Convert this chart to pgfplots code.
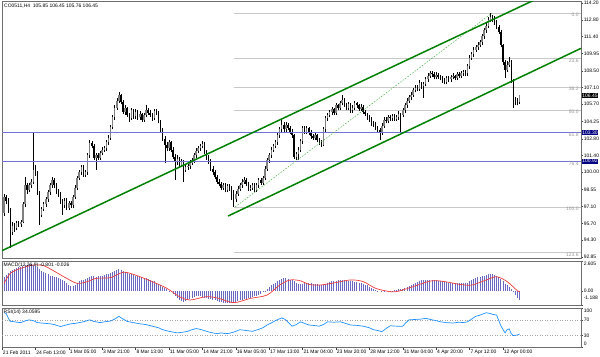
\documentclass[border=0pt]{standalone}
\usepackage{fontspec}
\setmainfont{Liberation Sans}
\usepackage{pgfplots}
\pgfplotsset{compat=1.18}
\usepackage{pgfplotstable}

\definecolor{hline}{RGB}{115,115,215}
\definecolor{navybox}{RGB}{0,0,128}
\definecolor{chgreen}{RGB}{0,128,0}
\definecolor{fibgreen}{RGB}{70,175,70}
\definecolor{fibgray}{RGB}{200,200,200}
\definecolor{fibtext}{RGB}{150,150,150}
\definecolor{histcol}{RGB}{105,105,195}
\definecolor{sigred}{RGB}{240,60,60}
\definecolor{rsiblue}{RGB}{30,144,255}
\definecolor{framecol}{RGB}{110,110,110}
\newcommand{\tf}{\fontsize{5}{6}\selectfont}

\pgfplotstableread{
i o h l c
0 96.60 98.20 96.30 97.90
1 97.90 98.10 97.30 97.60
2 97.60 97.80 96.60 96.80
3 96.80 96.95 93.63 95.00
4 95.00 95.80 94.70 95.50
5 95.50 95.70 95.00 95.30
6 95.30 95.90 95.10 95.70
7 95.70 95.90 95.40 95.60
8 95.60 96.00 95.40 95.80
9 95.80 97.50 95.70 97.30
10 97.30 99.60 97.10 98.90
11 98.90 99.10 98.20 98.50
12 98.50 99.10 98.30 98.90
13 98.90 99.40 98.70 99.20
14 99.20 103.29 99.00 100.20
15 100.20 100.60 99.70 100.00
16 100.00 100.10 98.10 98.30
17 98.30 98.40 95.56 96.40
18 96.40 97.10 96.20 96.90
19 96.90 97.50 96.70 97.30
20 97.30 97.90 97.10 97.70
21 97.70 98.50 97.50 98.30
22 98.30 99.10 98.10 98.90
23 98.90 99.60 98.70 99.30
24 99.30 99.50 98.70 98.90
25 98.90 99.10 98.20 98.40
26 98.40 98.60 97.90 98.10
27 98.10 98.30 97.30 97.50
28 97.50 97.70 96.40 97.20
29 97.20 97.80 97.00 97.60
30 97.60 97.80 96.80 97.00
31 97.00 97.60 96.80 97.40
32 97.40 97.60 97.00 97.20
33 97.20 98.10 97.00 97.90
34 97.90 98.90 97.70 98.70
35 98.70 99.70 98.50 99.50
36 99.50 100.20 99.30 100.00
37 100.00 100.60 99.80 100.40
38 100.40 100.60 99.60 99.80
39 99.80 100.20 99.60 100.00
40 100.00 101.60 99.80 101.40
41 101.40 102.70 101.20 102.45
42 102.45 102.60 102.00 102.20
43 102.20 102.40 101.00 101.20
44 101.20 101.60 100.18 101.40
45 101.40 101.60 101.00 101.20
46 101.20 101.80 101.00 101.60
47 101.60 102.10 101.40 101.90
48 101.90 102.20 101.70 102.00
49 102.00 102.70 101.80 102.50
50 102.50 103.10 102.30 102.90
51 102.90 104.00 102.70 103.80
52 103.80 104.80 103.60 104.60
53 104.60 105.60 104.40 105.40
54 105.40 106.20 105.20 106.00
55 106.00 106.73 105.80 106.50
56 106.50 106.60 105.70 105.90
57 105.90 106.10 104.90 105.05
58 105.05 105.60 104.80 105.40
59 105.40 105.50 104.60 104.80
60 104.80 105.00 104.20 104.55
61 104.55 105.40 104.40 105.20
62 105.20 105.30 104.50 104.70
63 104.70 105.30 104.50 105.05
64 105.05 105.20 104.40 104.60
65 104.60 105.10 104.40 104.90
66 104.90 105.00 104.20 104.40
67 104.40 105.00 104.20 104.80
68 104.80 105.64 104.60 105.20
69 105.20 105.40 104.80 105.00
70 105.00 105.20 104.60 104.80
71 104.80 105.00 104.30 104.55
72 104.55 105.30 104.40 105.10
73 105.10 105.30 104.80 104.97
74 104.97 105.10 104.10 104.30
75 104.30 104.40 103.30 103.50
76 103.50 103.70 102.60 102.80
77 102.80 103.00 100.77 102.30
78 102.30 102.50 101.80 102.00
79 102.00 102.70 101.80 102.50
80 102.50 102.60 101.70 101.90
81 101.90 102.10 101.10 101.30
82 101.30 101.50 99.34 100.85
83 100.85 101.40 100.60 101.10
84 101.10 101.30 100.40 100.60
85 100.60 101.10 100.40 100.90
86 100.90 101.00 99.17 100.20
87 100.20 100.60 100.00 100.40
88 100.40 100.70 100.20 100.50
89 100.50 101.00 100.30 100.80
90 100.80 101.20 100.60 101.00
91 101.00 101.60 100.80 101.40
92 101.40 102.00 101.20 101.80
93 101.80 102.20 101.60 102.00
94 102.00 102.40 101.80 102.20
95 102.20 102.62 102.00 102.40
96 102.40 102.50 101.50 101.70
97 101.70 101.90 101.00 101.20
98 101.20 101.40 100.70 100.90
99 100.90 101.10 100.10 100.30
100 100.30 100.50 99.80 100.00
101 100.00 100.20 99.40 99.60
102 99.60 99.80 99.00 99.20
103 99.20 99.40 98.80 99.00
104 99.00 99.20 98.50 98.70
105 98.70 99.10 98.50 98.90
106 98.90 99.10 98.30 98.50
107 98.50 99.00 98.30 98.80
108 98.80 99.00 98.40 98.60
109 98.60 98.80 97.66 98.30
110 98.30 98.50 97.07 97.70
111 97.70 98.40 97.50 98.20
112 98.20 98.80 98.00 98.60
113 98.60 99.10 98.40 98.90
114 98.90 99.40 98.70 99.20
115 99.20 99.60 99.00 99.30
116 99.30 99.50 98.80 99.00
117 99.00 99.20 98.40 98.60
118 98.60 98.90 98.40 98.70
119 98.70 99.10 98.50 98.90
120 98.90 99.10 98.30 98.50
121 98.50 99.10 98.30 98.90
122 98.90 99.50 98.70 99.30
123 99.30 99.50 98.90 99.10
124 99.10 99.70 98.90 99.50
125 99.50 100.50 99.30 100.30
126 100.30 101.20 100.10 101.00
127 101.00 101.60 100.80 101.40
128 101.40 102.10 101.20 101.90
129 101.90 102.40 101.70 102.20
130 102.20 102.70 102.00 102.50
131 102.50 103.30 102.30 103.10
132 103.10 103.80 102.90 103.60
133 103.60 104.38 103.40 104.00
134 104.00 104.20 103.40 103.60
135 103.60 104.20 103.40 104.00
136 104.00 104.10 103.50 103.70
137 103.70 103.90 103.20 103.40
138 103.40 103.60 102.90 103.10
139 103.10 103.20 101.10 101.30
140 101.30 101.70 101.00 101.50
141 101.50 102.10 101.00 101.90
142 101.90 102.80 101.70 102.60
143 102.60 103.90 102.40 103.70
144 103.70 103.90 103.20 103.40
145 103.40 103.90 103.20 103.70
146 103.70 103.80 103.10 103.30
147 103.30 103.50 102.80 103.00
148 103.00 103.20 102.70 102.90
149 102.90 103.30 102.70 103.10
150 103.10 103.20 102.50 102.70
151 102.70 102.90 102.30 102.50
152 102.50 102.70 102.10 102.30
153 102.30 103.80 102.20 103.60
154 103.60 104.70 103.40 104.55
155 104.55 105.00 104.30 104.80
156 104.80 105.20 104.60 105.05
157 105.05 105.50 104.80 105.30
158 105.30 105.40 104.80 105.00
159 105.00 105.80 104.80 105.60
160 105.60 105.70 105.20 105.40
161 105.40 106.00 105.20 105.80
162 105.80 106.48 105.60 106.10
163 106.10 106.20 105.50 105.70
164 105.70 105.80 105.20 105.40
165 105.40 105.90 105.20 105.70
166 105.70 105.80 105.00 105.20
167 105.20 105.60 105.00 105.40
168 105.40 106.00 105.20 105.80
169 105.80 105.90 105.40 105.60
170 105.60 105.70 105.10 105.30
171 105.30 105.70 105.10 105.50
172 105.50 105.60 104.90 105.05
173 105.05 105.20 104.70 104.90
174 104.90 105.00 104.40 104.60
175 104.60 104.80 104.20 104.40
176 104.40 104.60 103.90 104.10
177 104.10 104.30 103.80 104.00
178 104.00 104.20 103.50 103.70
179 103.70 103.90 103.30 103.50
180 103.50 103.70 102.70 103.30
181 103.30 104.10 103.10 103.90
182 103.90 104.60 103.70 104.40
183 104.40 104.60 104.10 104.30
184 104.30 104.80 104.10 104.60
185 104.60 104.80 104.30 104.55
186 104.55 104.90 104.30 104.70
187 104.70 104.90 104.30 104.50
188 104.50 104.80 104.30 104.60
189 104.60 105.10 104.40 104.90
190 104.90 105.00 103.29 104.80
191 104.80 105.40 104.60 105.20
192 105.20 105.80 105.00 105.60
193 105.60 106.20 105.40 106.00
194 106.00 106.50 105.80 106.30
195 106.30 106.70 106.10 106.50
196 106.50 107.10 106.30 106.90
197 106.90 107.30 106.70 107.10
198 107.10 107.30 106.80 107.00
199 107.00 107.70 106.80 107.50
200 107.50 107.60 107.00 107.20
201 107.20 107.60 106.23 107.40
202 107.40 108.00 107.20 107.80
203 107.80 108.30 107.60 108.10
204 108.10 108.50 107.90 108.30
205 108.30 108.50 108.00 108.25
206 108.25 108.40 107.80 108.00
207 108.00 108.40 107.80 108.20
208 108.20 108.30 107.80 108.00
209 108.00 108.20 107.70 107.90
210 107.90 108.10 107.50 107.75
211 107.75 107.90 107.40 107.60
212 107.60 108.10 107.40 107.90
213 107.90 108.10 107.60 107.80
214 107.80 108.20 107.60 108.00
215 108.00 108.30 107.80 108.10
216 108.10 108.20 107.70 107.90
217 107.90 108.40 107.70 108.25
218 108.25 108.40 107.90 108.10
219 108.10 108.50 107.90 108.30
220 108.30 108.60 108.10 108.40
221 108.40 108.60 108.10 108.30
222 108.30 109.10 108.10 108.90
223 108.90 109.80 108.70 109.60
224 109.60 110.10 109.40 109.90
225 109.90 110.50 109.70 110.30
226 110.30 110.70 110.10 110.50
227 110.50 110.90 110.30 110.70
228 110.70 111.10 110.50 110.90
229 110.90 111.60 110.70 111.40
230 111.40 112.10 111.20 111.90
231 111.90 112.50 111.70 112.30
232 112.30 113.00 112.10 112.80
233 112.80 113.37 112.60 113.00
234 113.00 113.20 112.60 112.90
235 112.90 113.10 112.40 112.60
236 112.60 112.80 112.00 112.20
237 112.20 112.40 111.60 111.80
238 111.80 111.90 110.50 110.70
239 110.70 110.80 109.00 109.25
240 109.25 109.40 107.90 108.60
241 108.60 109.30 108.40 109.00
242 109.00 109.67 108.80 109.25
243 109.25 109.40 107.50 107.70
244 107.70 107.80 105.40 106.10
245 106.10 106.30 105.60 105.90
246 105.90 106.20 105.60 105.85
247 105.85 106.45 105.76 106.45
}\ohlc

\pgfplotsset{panel/.style={
  scale only axis, width=579bp, xmin=-1, xmax=276.4,
  axis line style={framecol, line width=0.9bp},
  xtick=\empty,
  ytick pos=right, yticklabel pos=right, ytick align=outside,
  major tick length=2bp,
  tick style={black!75, line width=0.4bp},
  ticklabel style={font=\tf, text=black},
  yticklabel style={inner sep=0.6bp},
}}

\begin{document}
\begin{tikzpicture}
\useasboundingbox (0,0) rectangle (600bp,357bp);

% ---------------- main price panel ----------------
\begin{axis}[panel, at={(2bp,355.5bp)}, anchor=north west, height=256.5bp,
  ymin=92.785, ymax=114.336,
  ytick={114.20,112.80,111.40,109.95,108.50,107.10,105.70,104.25,102.80,101.40,100.00,98.55,97.10,95.70,94.30,92.85},
  yticklabels={114.20,112.80,111.40,109.95,108.50,107.10,105.70,104.25,102.80,101.40,100.00,98.55,97.10,95.70,94.30,92.85}]
% fibonacci levels
\addplot[fibgray, line width=0.9bp] coordinates {(110,113.37) (276.4,113.37)};
\addplot[fibgray, line width=0.9bp] coordinates {(110,109.52) (276.4,109.52)};
\addplot[fibgray, line width=0.9bp] coordinates {(110,107.14) (276.4,107.14)};
\addplot[fibgray, line width=0.9bp] coordinates {(110,105.22) (276.4,105.22)};
\addplot[fibgray, line width=0.9bp] coordinates {(110,97.07) (276.4,97.07)};
\addplot[fibgray, line width=0.9bp] coordinates {(110,93.22) (276.4,93.22)};
% candles: wicks
\addplot[draw=none, no markers,
  error bars/.cd, y dir=plus, y explicit, error mark=none,
  error bar style={draw=black, line width=0.5bp}]
  table[x=i, y=l, y error plus expr=\thisrow{h}-\thisrow{l}] {\ohlc};
% bull bodies
\addplot[draw=none, no markers,
  restrict expr to domain={\thisrow{c}-\thisrow{o}}{0:100},
  error bars/.cd, y dir=plus, y explicit, error mark=none,
  error bar style={draw=black!50, line width=1.5bp}]
  table[x=i, y=o, y error plus expr=\thisrow{c}-\thisrow{o}] {\ohlc};
% bear bodies
\addplot[draw=none, no markers,
  restrict expr to domain={\thisrow{o}-\thisrow{c}}{0.0001:100},
  error bars/.cd, y dir=plus, y explicit, error mark=none,
  error bar style={draw=black, line width=1.5bp}]
  table[x=i, y=c, y error plus expr=\thisrow{o}-\thisrow{c}] {\ohlc};
% horizontal lines
\addplot[hline, line width=0.75bp] coordinates {(-1,103.30) (276.4,103.30)};
\addplot[hline, line width=0.75bp] coordinates {(-1,100.92) (276.4,100.92)};
% channel
\addplot[chgreen, line width=1.5bp] coordinates {(-1,93.40) (262,115.12)};
\addplot[chgreen, line width=1.5bp] coordinates {(107.3,96.31) (276.4,110.40)};
\addplot[fibgreen, line width=0.5bp, dash pattern=on 1.5bp off 1.5bp] coordinates {(110.7,97.07) (233.8,113.37)};
% fib labels
\node[anchor=south east, font=\tf, text=fibtext, inner sep=0.3bp] at (axis cs:275.5,113.0) {0.0};
\node[anchor=south east, font=\tf, text=fibtext, inner sep=0.3bp] at (axis cs:275.5,109.15) {23.6};
\node[anchor=south east, font=\tf, text=fibtext, inner sep=0.3bp] at (axis cs:275.5,106.77) {38.2};
\node[anchor=south east, font=\tf, text=fibtext, inner sep=0.3bp] at (axis cs:275.5,104.85) {50.0};
\node[anchor=south east, font=\tf, text=fibtext, inner sep=0.3bp] at (axis cs:275.5,102.93) {61.8};
\node[anchor=south east, font=\tf, text=fibtext, inner sep=0.3bp] at (axis cs:275.5,100.55) {76.4};
\node[anchor=south east, font=\tf, text=fibtext, inner sep=0.3bp] at (axis cs:275.5,96.70) {100.0};
\node[anchor=south east, font=\tf, text=fibtext, inner sep=0.3bp] at (axis cs:275.5,92.85) {123.6};
\node[anchor=north west, font=\tf, inner sep=0pt, xshift=2bp, yshift=-2.5bp] at (rel axis cs:0,1) {CO0511,H4\ \ 105.85 106.45 105.76 106.45};
\coordinate (b1) at (axis cs:276.4,103.30);
\coordinate (b2) at (axis cs:276.4,100.92);
\coordinate (b3) at (axis cs:276.4,106.45);
\end{axis}
\node[fill=navybox, text=white, font=\tf, inner sep=0.6bp, anchor=west] at ([xshift=0.6bp]b1) {103.30};
\node[fill=navybox, text=white, font=\tf, inner sep=0.6bp, anchor=west] at ([xshift=0.6bp]b2) {100.92};
\node[fill=black, text=white, font=\tf, inner sep=0.6bp, anchor=west] at ([xshift=0.6bp]b3) {106.45};

% ---------------- MACD panel ----------------
\begin{axis}[panel, at={(2bp,96bp)}, anchor=north west, height=44bp,
  ymin=-1.188, ymax=2.605, ytick={2.605,0,-1.188}, yticklabels={,,}]
\addplot[ycomb, histcol, line width=0.8bp, mark=none] coordinates {
(0,1.20) (1,1.40) (2,1.55) (3,1.70) (4,1.85) (5,1.95) (6,2.00) (7,2.05) (8,2.10) (9,2.15)
(10,2.25) (11,2.30) (12,2.35) (13,2.35) (14,2.30) (15,2.20) (16,2.05) (17,1.90) (18,1.75) (19,1.65)
(20,1.55) (21,1.45) (22,1.35) (23,1.30) (24,1.25) (25,1.20) (26,1.15) (27,1.05) (28,0.95) (29,0.85)
(30,0.70) (31,0.55) (32,0.45) (33,0.45) (34,0.55) (35,0.70) (36,0.85) (37,0.95) (38,1.00) (39,1.05)
(40,1.15) (41,1.25) (42,1.30) (43,1.30) (44,1.25) (45,1.30) (46,1.35) (47,1.35) (48,1.40) (49,1.45)
(50,1.45) (51,1.55) (52,1.65) (53,1.75) (54,1.85) (55,1.90) (56,1.85) (57,1.75) (58,1.65) (59,1.55)
(60,1.50) (61,1.45) (62,1.40) (63,1.35) (64,1.30) (65,1.25) (66,1.20) (67,1.15) (68,1.10) (69,1.05)
(70,0.95) (71,0.90) (72,0.85) (73,0.75) (74,0.65) (75,0.55) (76,0.40) (77,0.25) (78,0.15) (79,0.05)
(80,-0.10) (81,-0.25) (82,-0.40) (83,-0.60) (84,-0.75) (85,-0.85) (86,-0.90) (87,-0.85) (88,-0.75) (89,-0.65)
(90,-0.55) (91,-0.50) (92,-0.45) (93,-0.45) (94,-0.45) (95,-0.50) (96,-0.55) (97,-0.60) (98,-0.65) (99,-0.70)
(100,-0.75) (101,-0.80) (102,-0.85) (103,-0.90) (104,-0.95) (105,-1.00) (106,-1.02) (107,-1.05) (108,-1.05) (109,-1.02)
(110,-0.98) (111,-0.92) (112,-0.86) (113,-0.80) (114,-0.75) (115,-0.70) (116,-0.65) (117,-0.60) (118,-0.55) (119,-0.50)
(120,-0.45) (121,-0.40) (122,-0.30) (123,-0.20) (124,-0.10) (125,0.05) (126,0.20) (127,0.35) (128,0.50) (129,0.65)
(130,0.75) (131,0.85) (132,0.95) (133,1.05) (134,1.10) (135,1.10) (136,1.05) (137,1.00) (138,0.95) (139,0.85)
(140,0.70) (141,0.60) (142,0.60) (143,0.65) (144,0.70) (145,0.70) (146,0.70) (147,0.70) (148,0.65) (149,0.65)
(150,0.60) (151,0.55) (152,0.50) (153,0.55) (154,0.65) (155,0.75) (156,0.80) (157,0.85) (158,0.90) (159,0.90)
(160,0.95) (161,0.95) (162,0.95) (163,0.95) (164,0.90) (165,0.90) (166,0.85) (167,0.85) (168,0.80) (169,0.80)
(170,0.75) (171,0.70) (172,0.65) (173,0.55) (174,0.50) (175,0.40) (176,0.30) (177,0.20) (178,0.10) (179,0.05)
(180,0.00) (181,-0.05) (182,-0.05) (183,0.00) (184,0.00) (185,0.05) (186,0.05) (187,0.10) (188,0.10) (189,0.15)
(190,0.15) (191,0.20) (192,0.25) (193,0.35) (194,0.45) (195,0.55) (196,0.65) (197,0.75) (198,0.80) (199,0.90)
(200,0.95) (201,1.00) (202,1.00) (203,1.00) (204,1.00) (205,1.00) (206,0.95) (207,0.95) (208,0.90) (209,0.90)
(210,0.85) (211,0.80) (212,0.80) (213,0.75) (214,0.75) (215,0.75) (216,0.70) (217,0.70) (218,0.70) (219,0.70)
(220,0.70) (221,0.70) (222,0.75) (223,0.85) (224,0.95) (225,1.05) (226,1.15) (227,1.20) (228,1.25) (229,1.30)
(230,1.35) (231,1.40) (232,1.45) (233,1.45) (234,1.45) (235,1.40) (236,1.30) (237,1.20) (238,1.05) (239,0.85)
(240,0.65) (241,0.50) (242,0.40) (243,0.20) (244,-0.10) (245,-0.35) (246,-0.60) (247,-0.80)};
\addplot[sigred, line width=0.7bp, smooth, tension=0.5] coordinates {
(0,0.68) (3,1.54) (8,1.97) (14,2.26) (19,2.20) (23,1.83) (30,1.11) (35,0.68) (40,0.83) (44,1.11)
(51,1.17) (57,1.63) (62,1.45) (70,0.90) (78,0.25) (84,-0.47) (89,-0.76) (97,-0.47) (103,-0.62) (110,-0.99)
(118,-0.62) (126,-0.33) (132,0.53) (137,0.97) (142,0.90) (146,0.59) (151,0.53) (157,0.68) (166,0.97) (172,0.83)
(178,0.25) (185,-0.04) (189,0.00) (196,0.40) (205,0.90) (212,0.80) (218,0.60) (224,0.53) (231,0.97) (236,1.25)
(241,0.83) (246,0.03) (247,-0.026)};
\node[anchor=north west, font=\tf, inner sep=0pt, xshift=1.5bp, yshift=-1.5bp] at (rel axis cs:0,1) {MACD(12,26,9) -0.801 -0.026};
\coordinate (mtop) at (rel axis cs:1,1);
\coordinate (mzero) at (axis cs:276.4,0);
\coordinate (mbot) at (rel axis cs:1,0);
\end{axis}
\node[font=\tf, anchor=west, inner sep=0.6bp] at ([xshift=2bp,yshift=-3bp]mtop) {2.605};
\node[font=\tf, anchor=west, inner sep=0.6bp] at ([xshift=2bp]mzero) {0.00};
\node[font=\tf, anchor=west, inner sep=0.6bp] at ([xshift=2bp,yshift=7bp]mbot) {-1.188};

% ---------------- RSI panel ----------------
\begin{axis}[panel, at={(2bp,49bp)}, anchor=north west, height=39.5bp,
  ymin=0, ymax=100, ytick={0,30,70,100}, yticklabels={,30,70,},
  xtick={-1,15,31,47,63,79,95,111,127,143,159,175,191,207,223,239},
  xticklabels={21 Feb 2011,24 Feb 13:00,1 Mar 05:00,3 Mar 21:00,8 Mar 13:00,11 Mar 05:00,14 Mar 21:00,16 Mar 05:00,17 Mar 13:00,21 Mar 04:00,23 Mar 20:00,28 Mar 12:00,31 Mar 04:00,4 Apr 20:00,7 Apr 12:00,12 Apr 00:00},
  xtick pos=left, xtick align=outside,
  xticklabel style={anchor=north west, inner sep=0.8bp, xshift=0bp}]
\addplot[black!35, line width=0.5bp, dash pattern=on 1bp off 1.5bp] coordinates {(-1,70) (276.4,70)};
\addplot[black!35, line width=0.5bp, dash pattern=on 1bp off 1.5bp] coordinates {(-1,30) (276.4,30)};
\addplot[rsiblue, line width=0.7bp] coordinates {
(0,88) (1,86) (2,75) (3,65) (4,66) (6,64) (8,63) (10,67) (12,70) (14,68) (16,63) (18,62) (20,61) (22,60) (24,58)
(27,53) (29,56) (32,60) (34,61) (36,63) (38,65) (41,70) (43,66) (46,63) (48,65) (51,67) (53,72) (55,79) (57,72)
(59,66) (62,63) (65,60) (68,58) (71,54) (74,50) (76,45) (79,41) (81,39) (83,37) (86,39) (88,41) (90,45) (92,48)
(94,46) (97,41) (99,38) (102,35) (104,37) (106,35) (108,36) (110,39) (113,45) (116,43) (119,41) (122,46) (124,50)
(126,57) (128,62) (130,68) (133,75) (135,70) (136,64) (138,54) (140,58) (142,65) (144,61) (146,57) (148,56)
(151,54) (153,58) (155,65) (158,64) (161,65) (163,62) (166,57) (169,56) (172,54) (175,50) (177,45) (179,43)
(181,40) (183,48) (185,55) (188,54) (191,54) (192,60) (194,70) (197,71) (200,72) (202,74) (205,70) (207,68)
(209,65) (212,63) (215,62) (218,64) (220,63) (222,65) (224,72) (226,79) (228,82) (231,88) (233,86) (234,84)
(236,82) (238,55) (240,37) (241,45) (242,47) (243,35) (244,30) (245,31) (246,32) (247,34.06)};
\node[anchor=north west, font=\tf, inner sep=0pt, xshift=1.5bp, yshift=-1.5bp] at (rel axis cs:0,1) {RSI(14) 34.0595};
\coordinate (rtop) at (rel axis cs:1,1);
\coordinate (rbot) at (rel axis cs:1,0);
\end{axis}
\node[font=\tf, anchor=west, inner sep=0.6bp] at ([xshift=2bp,yshift=-3bp]rtop) {100};
\node[font=\tf, anchor=west, inner sep=0.6bp] at ([xshift=2bp,yshift=3.5bp]rbot) {0};
\end{tikzpicture}
\end{document}
